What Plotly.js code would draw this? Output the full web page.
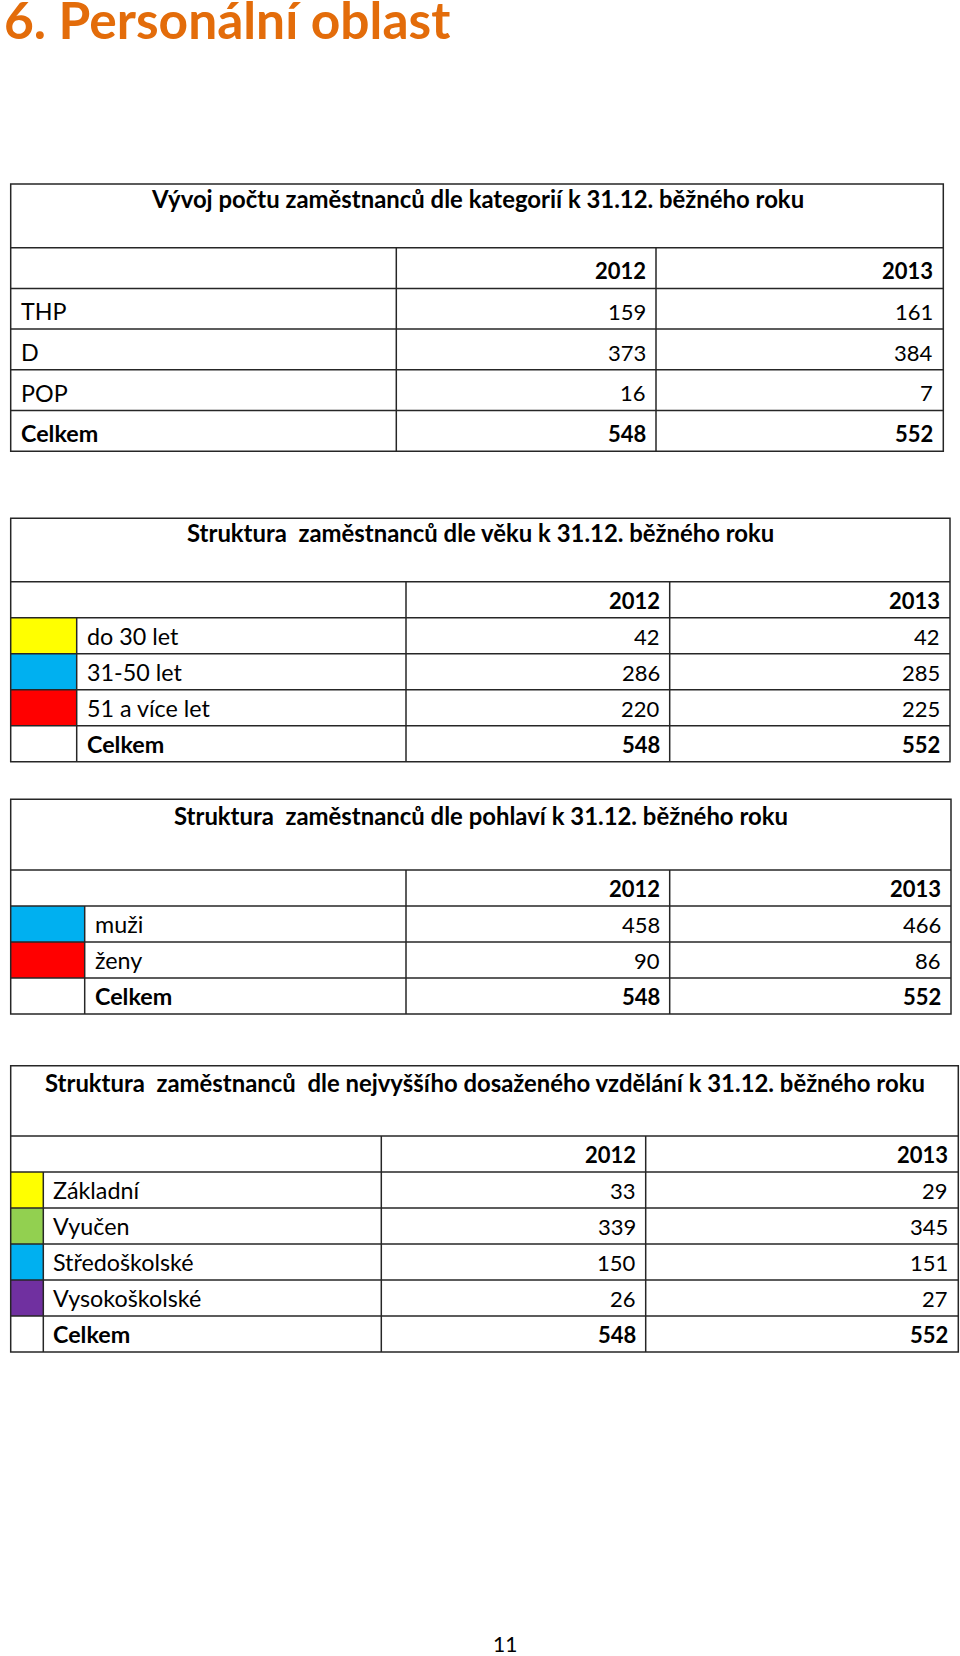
<!DOCTYPE html>
<html>
<head>
<meta charset="utf-8">
<script src="https://cdn.plot.ly/plotly-3.0.1.min.js"></script>
<style>
  html, body { margin: 0; padding: 0; background: #fff; }
  #page { width: 960px; height: 1656px; }
</style>
</head>
<body>
<div id="page"></div>
<script>
// Page heading and footer
const pageTitle = '6. Personální oblast';
const pageNumber = '11';
const years = ['2012', '2013'];

// Table 1 - categories
const catTitle = 'Vývoj počtu zaměstnanců dle kategorií k 31.12. běžného roku';
const catLabels = ['THP', 'D', 'POP', 'Celkem'];
const cat2012 = [159, 373, 16, 548];
const cat2013 = [161, 384, 7, 552];

// Table 2 - age
const ageTitle = 'Struktura\u00a0 zaměstnanců dle věku k 31.12. běžného roku';
const ageLabels = ['do 30 let', '31-50 let', '51 a více let', 'Celkem'];
const age2012 = [42, 286, 220, 548];
const age2013 = [42, 285, 225, 552];
const ageColors = ['#FFFF00', '#00B0F0', '#FF0000', null];

// Table 3 - gender
const sexTitle = 'Struktura\u00a0 zaměstnanců dle pohlaví k 31.12. běžného roku';
const sexLabels = ['muži', 'ženy', 'Celkem'];
const sex2012 = [458, 90, 548];
const sex2013 = [466, 86, 552];
const sexColors = ['#00B0F0', '#FF0000', null];

// Table 4 - education
const eduTitle = 'Struktura\u00a0 zaměstnanců\u00a0 dle nejvyššího dosaženého vzdělání k 31.12. běžného roku';
const eduLabels = ['Základní', 'Vyučen', 'Středoškolské', 'Vysokoškolské', 'Celkem'];
const edu2012 = [33, 339, 150, 26, 548];
const edu2013 = [29, 345, 151, 27, 552];
const eduColors = ['#FFFF00', '#92D050', '#00B0F0', '#7030A0', null];

// Layout of each table on the page (page pixel units)
const tables = [
    { title: catTitle, labels: catLabels, a: cat2012, b: cat2013, colors: null,
      left: 10.7, swatch: null, split: 396.3, mid: 656, right: 943.3,
      top: 184, headH: 63.7, rowH: 40.7, titleBase: 25 },
    { title: ageTitle, labels: ageLabels, a: age2012, b: age2013, colors: ageColors,
      left: 10.7, swatch: 76.7, split: 406, mid: 669.7, right: 950,
      top: 518.3, headH: 63.4, rowH: 36, titleBase: 24.5 },
    { title: sexTitle, labels: sexLabels, a: sex2012, b: sex2013, colors: sexColors,
      left: 10.7, swatch: 84.7, split: 406, mid: 669.7, right: 951,
      top: 799.3, headH: 70.7, rowH: 36, titleBase: 26.7 },
    { title: eduTitle, labels: eduLabels, a: edu2012, b: edu2013, colors: eduColors,
      left: 10.7, swatch: 43.3, split: 381.3, mid: 645.7, right: 958.3,
      top: 1065.7, headH: 70.3, rowH: 36, titleBase: 27.6 }
];

const FONT = 'Lato, "Open Sans", sans-serif';
const LABEL_SIZE = 23.3;
const NUM_SIZE = 22;
const TITLE_SIZE = 23.9;
const LINE = { color: '#262626', width: 1.5 };
const PAD = 9;
const BASE_UP = 7.8;   // baseline distance above the row's bottom line

const shapes = [];
const annotations = [];

// place text so its baseline sits on baseY
function addText(text, x, baseY, xanchor, size, color) {
    annotations.push({
        text: text,
        x: x,
        y: baseY,
        yshift: -0.213 * size,
        xref: 'x',
        yref: 'y',
        xanchor: xanchor,
        yanchor: 'bottom',
        showarrow: false,
        borderpad: 0,
        font: { family: FONT, size: size, color: color || '#000' }
    });
}

function addLine(x0, y0, x1, y1) {
    shapes.push({ type: 'line', xref: 'x', yref: 'y', x0: x0, y0: y0, x1: x1, y1: y1, line: LINE });
}

function drawTable(t) {
    const nRows = t.labels.length + 1; // year row + data rows
    const body = t.top + t.headH;
    const bottom = body + nRows * t.rowH;
    const labelX = t.swatch !== null ? t.swatch : t.left;

    // colour swatches
    if (t.colors) {
        t.colors.forEach((c, i) => {
            if (!c) return;
            const y0 = body + (i + 1) * t.rowH;
            shapes.push({
                type: 'rect', xref: 'x', yref: 'y', layer: 'below',
                x0: t.left, x1: t.swatch, y0: y0, y1: y0 + t.rowH,
                fillcolor: c, line: { width: 0 }
            });
        });
    }

    // grid
    shapes.push({ type: 'rect', xref: 'x', yref: 'y', x0: t.left, x1: t.right, y0: t.top, y1: bottom, line: LINE });
    for (let i = 0; i < nRows; i++) {
        addLine(t.left, body + i * t.rowH, t.right, body + i * t.rowH);
    }
    addLine(t.split, body, t.split, bottom);
    addLine(t.mid, body, t.mid, bottom);
    if (t.swatch !== null) addLine(t.swatch, body + t.rowH, t.swatch, bottom);

    // title
    addText('<b>' + t.title + '</b>', (t.left + t.right) / 2, t.top + t.titleBase, 'center', TITLE_SIZE);

    // year header
    const yearBase = body + t.rowH - BASE_UP;
    addText('<b>' + years[0] + '</b>', t.mid - PAD, yearBase, 'right', NUM_SIZE);
    addText('<b>' + years[1] + '</b>', t.right - PAD, yearBase, 'right', NUM_SIZE);

    // data rows
    t.labels.forEach((lab, i) => {
        const base = body + (i + 2) * t.rowH - BASE_UP;
        const last = i === t.labels.length - 1;
        const wrap = s => last ? '<b>' + s + '</b>' : String(s);
        addText(wrap(lab), labelX + PAD, base, 'left', LABEL_SIZE);
        addText(wrap(t.a[i]), t.mid - PAD, base, 'right', NUM_SIZE);
        addText(wrap(t.b[i]), t.right - PAD, base, 'right', NUM_SIZE);
    });
}

tables.forEach(drawTable);

// heading and page number
addText('<b>' + pageTitle + '</b>', 3, 40, 'left', 51.5, '#E36C0A');
addText(pageNumber, 505, 1653, 'center', 21);

const layout = {
    width: 960,
    height: 1656,
    margin: { l: 0, r: 0, t: 0, b: 0, pad: 0 },
    paper_bgcolor: '#fff',
    plot_bgcolor: '#fff',
    showlegend: false,
    xaxis: { range: [0, 960], visible: false, fixedrange: true },
    yaxis: { range: [1656, 0], visible: false, fixedrange: true },
    shapes: shapes,
    annotations: annotations
};

Plotly.newPlot('page', [], layout, { staticPlot: true, displayModeBar: false });
</script>
</body>
</html>
